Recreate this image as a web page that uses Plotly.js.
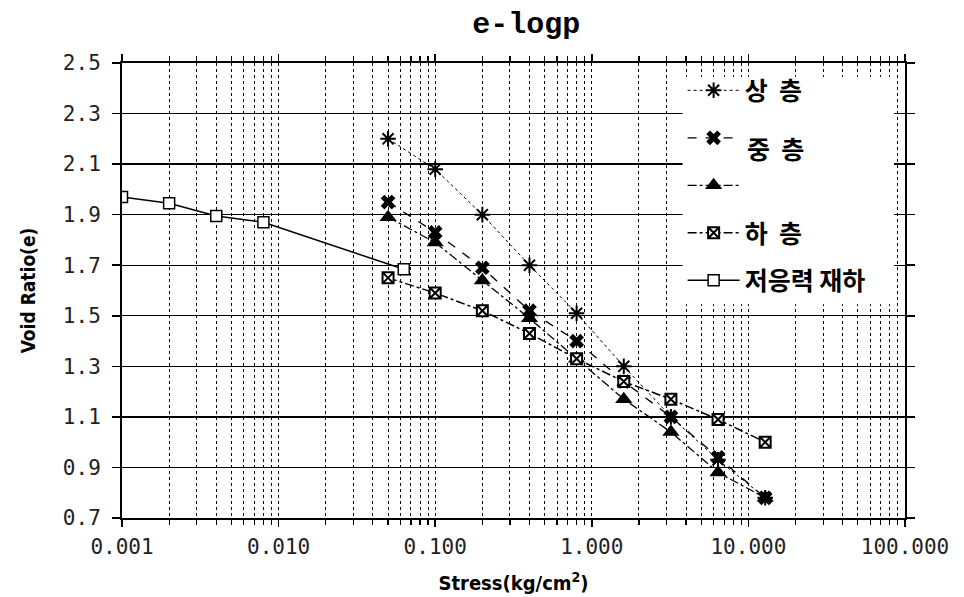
<!DOCTYPE html>
<html>
<head>
<meta charset="utf-8">
<script src="https://cdn.plot.ly/plotly-3.0.1.min.js"></script>
<style>html,body{margin:0;padding:0;background:#fff;}#chart{width:964px;height:597px;}</style>
</head>
<body>
<div id="chart"></div>
<script>
// Stress (kg/cm2) steps
const stress = [0.05, 0.1, 0.2, 0.4, 0.8, 1.6, 3.2, 6.4, 12.8];
const upperLayer = [2.20, 2.08, 1.90, 1.70, 1.51, 1.30, 1.10, 0.93, 0.78];   // 상층
const middleLayerA = [1.95, 1.83, 1.69, 1.52, 1.40, 1.24, 1.10, 0.94, 0.78]; // 중층 (x)
const middleLayerB = [1.89, 1.79, 1.64, 1.49, 1.33, 1.17, 1.04, 0.88, 0.78]; // 중층 (triangle)
const lowerLayer = [1.65, 1.59, 1.52, 1.43, 1.33, 1.24, 1.17, 1.09, 1.00];   // 하층
const lowStress = [0.001, 0.002, 0.004, 0.008, 0.063];
const lowStressLoad = [1.97, 1.945, 1.895, 1.87, 1.684];                      // 저응력 재하

const names = ['상\u00a0\u00a0층', '\u00a0', '\u00a0', '하\u00a0\u00a0층', '저응력\u00a0재하'];
const middleLabel = '중\u00a0\u00a0층';

const xTickVals = [0.001, 0.01, 0.1, 1, 10, 100];
const xTickText = ['0.001', '0.010', '0.100', '1.000', '10.000', '100.000'];
const yTickVals = [0.7, 0.9, 1.1, 1.3, 1.5, 1.7, 1.9, 2.1, 2.3, 2.5];
const yTickText = ['0.7', '0.9', '1.1', '1.3', '1.5', '1.7', '1.9', '2.1', '2.3', '2.5'];

const tickFont = {family: 'DejaVu Sans Mono, Liberation Mono, monospace', size: 21, color: '#222'};
const axisTitleFont = {family: 'Liberation Sans Narrow, DejaVu Sans Condensed, Arial Narrow, sans-serif', size: 20, color: '#000', weight: 'bold'};
const legendFont = {family: 'Noto Sans CJK KR, sans-serif', size: 25, color: '#000', weight: 'bold'};

const traces = [
  {x: stress, y: upperLayer, name: names[0], legendgroup: 'a',
   mode: 'lines+markers', line: {color: '#000', width: 1, dash: 'dot'},
   marker: {symbol: 'asterisk-open', size: 13, color: '#000', line: {color: '#000', width: 2}}},
  {x: stress, y: middleLayerA, name: names[1], legendgroup: 'b',
   mode: 'lines+markers', line: {color: '#000', width: 1.3, dash: 'dash'},
   marker: {symbol: 'x', size: 13, color: '#000'}},
  {x: stress, y: middleLayerB, name: names[2], legendgroup: 'c',
   mode: 'lines+markers', line: {color: '#000', width: 1.3, dash: 'dashdot'},
   marker: {symbol: 'triangle-up', size: 15, color: '#000'}},
  {x: stress, y: lowerLayer, name: names[3], legendgroup: 'd',
   mode: 'lines+markers', line: {color: '#000', width: 1.5, dash: 'dashdot'},
   marker: {symbol: 'square-x', size: 11, color: '#fff', line: {color: '#000', width: 2}}},
  {x: lowStress, y: lowStressLoad, name: names[4], legendgroup: 'e',
   mode: 'lines+markers', line: {color: '#000', width: 1.5},
   marker: {symbol: 'square', size: 11, color: '#fff', line: {color: '#000', width: 1.5}}}
];

const layout = {
  width: 964, height: 597,
  margin: {l: 122, r: 59, t: 63, b: 79},
  paper_bgcolor: '#fff', plot_bgcolor: '#fff',
  title: {text: 'e-logp', font: {family: 'Liberation Mono, Courier New, monospace', size: 30, color: '#000', weight: 'bold'},
          x: 0.546, xanchor: 'center', y: 0.962, yanchor: 'middle'},
  xaxis: {
    type: 'log', range: [-3, 2],
    tickvals: xTickVals, ticktext: xTickText, tickfont: tickFont,
    ticks: 'outside', ticklen: 7, tickcolor: '#000', tickwidth: 1.5, ticklabelstandoff: 2,
    showline: true, linecolor: '#000', linewidth: 2, mirror: 'ticks',
    showgrid: true, gridcolor: '#000', gridwidth: 1, griddash: 'dot',
    minor: {dtick: 'D1', showgrid: true, gridcolor: '#000', gridwidth: 1, griddash: 'dot',
            ticks: 'outside', ticklen: 5, tickcolor: '#000', tickwidth: 1.2},
    zeroline: false,
    title: {text: 'Stress(kg/cm<sup>2</sup>)', standoff: 18, font: axisTitleFont}
  },
  yaxis: {
    range: [0.7, 2.5],
    tickvals: yTickVals, ticktext: yTickText, tickfont: tickFont,
    ticks: 'outside', ticklen: 8, tickcolor: '#000', tickwidth: 1.5, ticklabelstandoff: 7,
    showline: true, linecolor: '#000', linewidth: 2, mirror: 'ticks',
    showgrid: true, gridcolor: '#000', gridwidth: 1.3,
    zeroline: false,
    title: {text: 'Void Ratio(e)', standoff: 22, font: {family: axisTitleFont.family, size: 19, color: '#000', weight: 'bold'}}
  },
  shapes: [
    {type: 'rect', xref: 'paper', yref: 'paper', x0: 0.716, x1: 0.986, y0: 0.47, y1: 0.97,
     fillcolor: '#fff', line: {width: 0}, layer: 'above'}
  ],
  annotations: [
    {text: middleLabel, xref: 'paper', yref: 'paper', x: 0.796, y: 0.813,
     xanchor: 'left', yanchor: 'middle', showarrow: false, font: legendFont}
  ],
  showlegend: true,
  legend: {
    x: 0.716, y: 0.99, xanchor: 'left', yanchor: 'top',
    bgcolor: 'rgba(0,0,0,0)', borderwidth: 0,
    font: legendFont,
    itemwidth: 52, valign: 'middle', tracegroupgap: 12
  }
};

Plotly.newPlot('chart', traces, layout, {displayModeBar: false, staticPlot: true});
</script>
</body>
</html>
